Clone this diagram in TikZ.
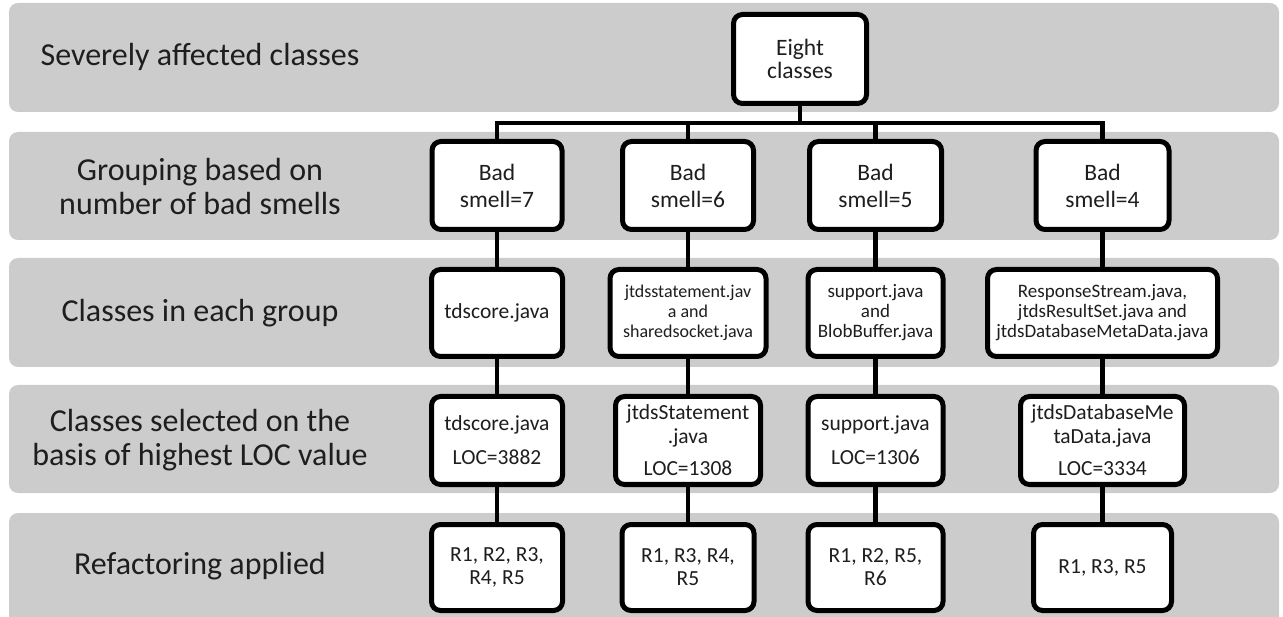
\documentclass[tikz,border=0pt]{standalone}
\usepackage{fontspec}
\setmainfont{Carlito}
\definecolor{bandgray}{RGB}{204,204,204}
\definecolor{txt}{RGB}{30,30,30}
\tikzset{
  band/.style={fill=bandgray, draw=none, rounded corners=9pt},
  lbl/.style={align=center, text=txt, inner sep=0pt, font=\fontsize{32}{34}\selectfont},
  box/.style={draw=black, line width=5pt, rounded corners=9pt, fill=white, align=center, inner sep=0pt, text=txt},
  conn/.style={draw=black, line width=4.5pt, line join=miter},
  fbig/.style={font=\fontsize{23.5}{27}\selectfont},
  fmid/.style={font=\fontsize{21.5}{24}\selectfont},
  fsmall/.style={font=\fontsize{19}{20}\selectfont},
  ftiny/.style={font=\fontsize{18}{20}\selectfont},
}
\begin{document}
\begin{tikzpicture}[x=1pt,y=-1pt]
\useasboundingbox (0,0) rectangle (1283,617);
\clip (0,0) rectangle (1283,617);
% bands
\fill[band] (9,3) rectangle (1279,112);
\fill[band] (9,132) rectangle (1279,240);
\fill[band] (9,258) rectangle (1279,367);
\fill[band] (9,385) rectangle (1279,493);
\fill[band] (9,513) rectangle (1279,640);
% labels
\node[lbl] (l1) at (200,57) {Severely affected classes};
\node[lbl] (l2) at (200,187) {Grouping based on\\number of bad smells};
\node[lbl] (l3) at (200,313) {Classes in each group};
\node[lbl] (l4) at (200,440) {Classes selected on the\\basis of highest LOC value};
\node[lbl] (l5) at (200,566) {Refactoring applied};
% top node
\node[box, fbig, font=\fontsize{23.5}{23}\selectfont, minimum width=133pt, minimum height=89pt] (top) at (800,59) {Eight\\classes};
% row 2
\node[box, fbig, minimum width=130pt, minimum height=88pt] (r2c1) at (497,185.5) {Bad\\smell=7};
\node[box, fbig, minimum width=131pt, minimum height=88pt] (r2c2) at (688,185.5) {Bad\\smell=6};
\node[box, fbig, minimum width=132pt, minimum height=88pt] (r2c3) at (875.5,185.5) {Bad\\smell=5};
\node[box, fbig, minimum width=133pt, minimum height=88pt] (r2c4) at (1102.5,185.5) {Bad\\smell=4};
% row 3
\node[box, fmid, minimum width=131pt, minimum height=87pt] (r3c1) at (497,313) {tdscore.java};
\node[box, ftiny, minimum width=156pt, minimum height=87pt] (r3c2) at (688,313) {jtdsstatement.jav\\a and\\sharedsocket.java};
\node[box, fsmall, minimum width=135pt, minimum height=87pt] (r3c3) at (875.5,313) {support.java\\and\\BlobBuffer.java};
\node[box, fsmall, minimum width=230pt, minimum height=87pt] (r3c4) at (1102.5,313) {ResponseStream.java,\\jtdsResultSet.java and\\jtdsDatabaseMetaData.java};
% row 4
\node[box, fmid, minimum width=131pt, minimum height=88pt] (r4c1) at (497,440.5) {tdscore.java\\[10pt]LOC=3882};
\node[box, fmid, minimum width=145pt, minimum height=88pt] (r4c2) at (688,440.5) {jtdsStatement\\.java\\[8pt]LOC=1308};
\node[box, fmid, minimum width=135pt, minimum height=88pt] (r4c3) at (875.5,440.5) {support.java\\[10pt]LOC=1306};
\node[box, fmid, minimum width=164pt, minimum height=88pt] (r4c4) at (1102.5,440.5) {jtdsDatabaseMe\\taData.java\\[8pt]LOC=3334};
% row 5
\node[box, font=\fontsize{21.5}{23}\selectfont, minimum width=131pt, minimum height=86pt] (r5c1) at (497,567.5) {R1, R2, R3,\\R4, R5};
\node[box, font=\fontsize{21.5}{23}\selectfont, minimum width=132pt, minimum height=86pt] (r5c2) at (688,567.5) {R1, R3, R4,\\R5};
\node[box, font=\fontsize{21.5}{23}\selectfont, minimum width=135pt, minimum height=86pt] (r5c3) at (875.5,567.5) {R1, R2, R5,\\R6};
\node[box, font=\fontsize{21.5}{23}\selectfont, minimum width=138pt, minimum height=86pt] (r5c4) at (1102.5,567.5) {R1, R3, R5};
% connectors
\coordinate (bus) at (800,123);
\draw[conn] (top.south) -- (bus);
\draw[conn] (r2c1.north) -- (r2c1.north |- bus) -- (r2c4.north |- bus) -- (r2c4.north);
\draw[conn] (r2c2.north) -- (r2c2.north |- bus);
\draw[conn] (r2c3.north) -- (r2c3.north |- bus);
\foreach \c in {c1,c2,c3,c4}{
  \draw[conn] (r2\c.south) -- (r3\c.north);
  \draw[conn] (r3\c.south) -- (r4\c.north);
  \draw[conn] (r4\c.south) -- (r5\c.north);
}
\end{tikzpicture}
\end{document}
